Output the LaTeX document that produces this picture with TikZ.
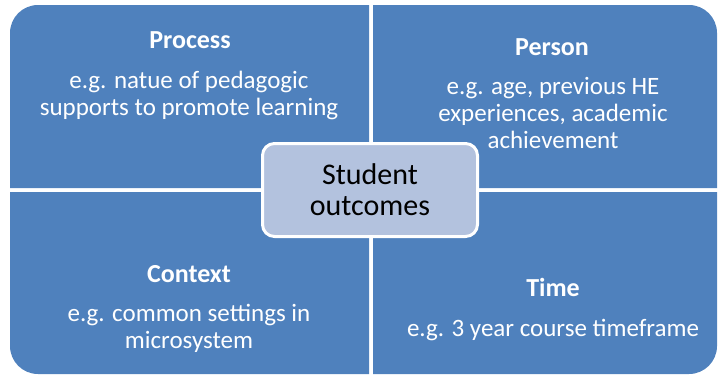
\documentclass[tikz,border=0pt]{standalone}
\usepackage{fontspec}
\setmainfont{Carlito}
\definecolor{quadblue}{HTML}{4F81BD}
\definecolor{hubblue}{HTML}{B3C2DE}

\tikzset{
  quad/.style={fill=quadblue},
  quadtitle/.style={text=white, font=\fontsize{26}{27}\selectfont\bfseries, anchor=base, inner sep=0pt},
  quadbody/.style={text=white, font=\fontsize{25}{27}\selectfont, align=center, anchor=base, inner sep=0pt},
  hub/.style={draw=white, line width=3pt, fill=hubblue, rounded corners=12pt,
    minimum width=215pt, minimum height=93pt, font=\fontsize{30}{31}\selectfont, align=center}
}

\begin{document}
\begin{tikzpicture}[x=1pt,y=-1pt]
\useasboundingbox (0,0) rectangle (719,375);
% four quadrants, only the outer corner rounded
\fill[quad] (10,188) -- (10,100) [rounded corners=28pt] -- (10,5) -- (190,5) [sharp corners] -- (369,5) -- (369,188) -- cycle;
\fill[quad] (373,188) -- (373,5) -- (550,5) [rounded corners=28pt] -- (717,5) -- (717,100) [sharp corners] -- (717,188) -- cycle;
\fill[quad] (369,192) -- (10,192) -- (10,280) [rounded corners=28pt] -- (10,374) -- (190,374) [sharp corners] -- (369,374) -- cycle;
\fill[quad] (373,192) -- (717,192) -- (717,280) [rounded corners=28pt] -- (717,374) -- (550,374) [sharp corners] -- (373,374) -- cycle;

% base of a text block is its last line
\node[quadtitle] (process) at (190,48) {Process};
\node[quadbody] (process-txt) at (189,115) {e.g. natue of pedagogic\\supports to promote learning};

\node[quadtitle] (person) at (552,55) {Person};
\node[quadbody] (person-txt) at (553,148) {e.g. age, previous HE\\experiences, academic\\achievement};

\node[quadtitle] (context) at (189,282) {Context};
\node[quadbody] (context-txt) at (189,348) {e.g. common settings in\\microsystem};

\node[quadtitle] (time) at (553,296) {Time};
\node[quadbody] (time-txt) at (553,336) {e.g. 3 year course timeframe};

\node[hub] (outcomes) at (370,190) {Student\\outcomes};
\end{tikzpicture}
\end{document}
